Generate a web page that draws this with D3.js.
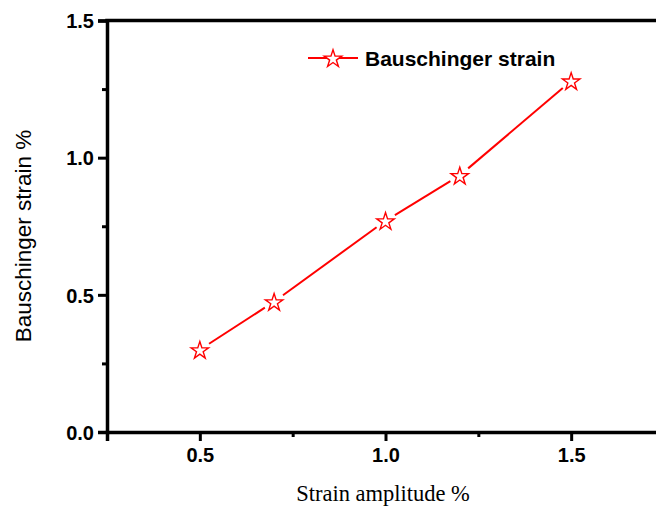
<!DOCTYPE html>
<html>
<head>
<meta charset="utf-8">
<script src="https://cdn.jsdelivr.net/npm/d3@7"></script>
<style>
  html, body { margin: 0; padding: 0; background: #fff; }
  svg { display: block; }
</style>
</head>
<body>
<svg id="chart" width="656" height="510"></svg>
<script>
// Bauschinger strain measured at each strain amplitude
const strainAmplitude = [0.5, 0.7, 1.0, 1.2, 1.5];
const bauschingerStrain = [0.30, 0.475, 0.77, 0.935, 1.28];
const xTickValues = [0.5, 1.0, 1.5];
const xMinorTicks = [0.75, 1.25];
const yTickValues = [0.0, 0.5, 1.0, 1.5];
const yMinorTicks = [0.25, 0.75, 1.25];
const seriesName = "Bauschinger strain";
const xTitle = "Strain amplitude %";
const yTitle = "Bauschinger strain %";

const svg = d3.select("#chart");
const plotLeft = 107, plotRight = 664, plotTop = 20.5, plotBottom = 432;

const x = d3.scaleLinear().domain([0.25, 1.75]).range([plotLeft, plotRight]);
const y = d3.scaleLinear().domain([0, 1.5]).range([plotBottom, plotTop]);

const red = "#ff0000";
const sansFont = "'Liberation Sans', Arial, sans-serif";

// Axes with outward ticks
const xAxis = svg.append("g").attr("transform", `translate(0,${plotBottom})`)
  .call(d3.axisBottom(x).tickValues(xTickValues).tickSize(9).tickPadding(7)
        .tickFormat(d3.format(".1f")));
const xMinor = svg.append("g").attr("transform", `translate(0,${plotBottom})`)
  .call(d3.axisBottom(x).tickValues(xMinorTicks).tickSize(5).tickFormat(""));

const yAxis = svg.append("g").attr("transform", `translate(${plotLeft},0)`)
  .call(d3.axisLeft(y).tickValues(yTickValues).tickSize(9).tickPadding(4)
        .tickFormat(d3.format(".1f")));
const yMinor = svg.append("g").attr("transform", `translate(${plotLeft},0)`)
  .call(d3.axisLeft(y).tickValues(yMinorTicks).tickSize(5).tickFormat(""));

[xAxis, xMinor, yAxis, yMinor].forEach(g => {
  g.select(".domain").attr("stroke", "#000").attr("stroke-width", 3.5);
  g.selectAll(".tick line").attr("stroke", "#000").attr("stroke-width", 3);
  g.selectAll(".tick text")
    .attr("fill", "#000")
    .style("font-family", sansFont)
    .style("font-weight", "bold")
    .style("font-size", "20px");
});
xMinor.select(".domain").remove();
yMinor.select(".domain").remove();
yAxis.selectAll(".tick text").attr("dy", "0.36em");

// Top frame line
svg.append("line")
  .attr("x1", plotLeft - 1.75).attr("x2", plotRight)
  .attr("y1", plotTop).attr("y2", plotTop)
  .attr("stroke", "#000").attr("stroke-width", 3.5);

// Axis titles
svg.append("text")
  .attr("x", 383).attr("y", 501)
  .attr("text-anchor", "middle")
  .style("font-family", "'Liberation Serif', 'Times New Roman', serif")
  .style("font-size", "22.5px")
  .text(xTitle);

svg.append("text")
  .attr("transform", "translate(31,236) rotate(-90)")
  .attr("text-anchor", "middle")
  .style("font-family", sansFont)
  .style("font-size", "22.5px")
  .text(yTitle);

// Data line: segments stop short of each marker
const pts = strainAmplitude.map((v, i) => [x(v), y(bauschingerStrain[i])]);
const gap = 11;
const segs = d3.pairs(pts).map(([a, b]) => {
  const dx = b[0] - a[0], dy = b[1] - a[1];
  const len = Math.hypot(dx, dy);
  const ux = dx / len, uy = dy / len;
  return [[a[0] + ux * gap, a[1] + uy * gap], [b[0] - ux * gap, b[1] - uy * gap]];
});
svg.append("g").selectAll("line").data(segs).join("line")
  .attr("x1", d => d[0][0]).attr("y1", d => d[0][1])
  .attr("x2", d => d[1][0]).attr("y2", d => d[1][1])
  .attr("stroke", red).attr("stroke-width", 2);

const star = d3.symbol().type(d3.symbolStar).size(95);
svg.append("g").selectAll("path").data(pts).join("path")
  .attr("transform", d => `translate(${d[0]},${d[1] + 1})`)
  .attr("d", star)
  .attr("fill", "#fff").attr("stroke", red).attr("stroke-width", 1.4);

// Legend
const lg = svg.append("g").attr("transform", "translate(308,58)");
lg.append("line").attr("x1", 0).attr("x2", 50).attr("y1", 0).attr("y2", 0)
  .attr("stroke", red).attr("stroke-width", 2);
lg.append("path").attr("transform", "translate(25,1)").attr("d", star)
  .attr("fill", "#fff").attr("stroke", red).attr("stroke-width", 1.4);
lg.append("text")
  .attr("x", 57).attr("y", 7.5)
  .style("font-family", sansFont)
  .style("font-weight", "bold")
  .style("font-size", "21px")
  .text(seriesName);
</script>
</body>
</html>
